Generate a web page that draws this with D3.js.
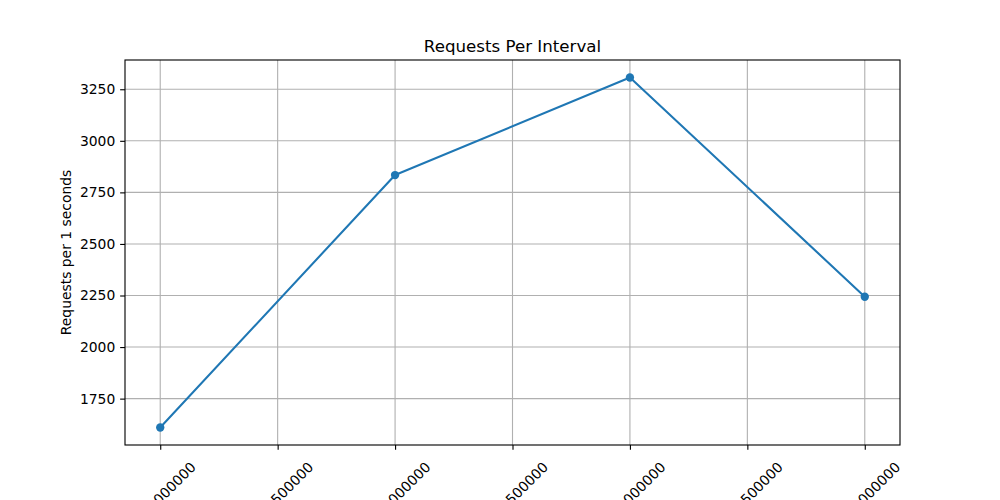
<!DOCTYPE html>
<html>
<head>
<meta charset="utf-8">
<script src="https://cdn.jsdelivr.net/npm/d3@7"></script>
<style>
  html, body { margin: 0; padding: 0; background: #fff; }
  svg { display: block; font-family: "DejaVu Sans", sans-serif; }
</style>
</head>
<body>
<svg id="chart" width="1000" height="500"></svg>
<script>
// ---- data ----
const intervals = [0, 1, 2, 3];
const requests = [1610, 2834, 3307, 2244];
const xTicks = [0, 0.5, 1, 1.5, 2, 2.5, 3];
const xTickLabels = ["0.000000", "0.500000", "1.000000", "1.500000", "2.000000", "2.500000", "3.000000"];
const yTicks = [1750, 2000, 2250, 2500, 2750, 3000, 3250];
const titleText = "Requests Per Interval";
const yLabelText = "Requests per 1 seconds";

// ---- layout ----
const W = 1000, H = 500;
const m = { left: 125, right: 900, top: 60, bottom: 445 };
const blue = "#1f77b4";
const grid = "#b0b0b0";

const svg = d3.select("#chart");

const xMin = d3.min(intervals), xMax = d3.max(intervals);
const xPad = (xMax - xMin) * 0.05;
const yMin = d3.min(requests), yMax = d3.max(requests);
const yPad = (yMax - yMin) * 0.05;

const x = d3.scaleLinear().domain([xMin - xPad, xMax + xPad]).range([m.left, m.right]);
const y = d3.scaleLinear().domain([yMin - yPad, yMax + yPad]).range([m.bottom, m.top]);

// grid
const g = svg.append("g");
g.selectAll("line.vx").data(xTicks).join("line")
  .attr("x1", d => x(d)).attr("x2", d => x(d))
  .attr("y1", m.top).attr("y2", m.bottom)
  .attr("stroke", grid).attr("stroke-width", 1.11);
g.selectAll("line.hy").data(yTicks).join("line")
  .attr("x1", m.left).attr("x2", m.right)
  .attr("y1", d => y(d)).attr("y2", d => y(d))
  .attr("stroke", grid).attr("stroke-width", 1.11);

// line and markers
const line = d3.line().x((d, i) => x(intervals[i])).y(d => y(d));
svg.append("path").datum(requests)
  .attr("d", line).attr("fill", "none")
  .attr("stroke", blue).attr("stroke-width", 2.08)
  .attr("stroke-linejoin", "round").attr("stroke-linecap", "square");
svg.selectAll("circle.pt").data(requests).join("circle")
  .attr("cx", (d, i) => x(intervals[i])).attr("cy", d => y(d))
  .attr("r", 4.17).attr("fill", blue);

// spines
svg.append("rect")
  .attr("x", m.left).attr("y", m.top)
  .attr("width", m.right - m.left).attr("height", m.bottom - m.top)
  .attr("fill", "none").attr("stroke", "#000").attr("stroke-width", 1.11);

// x axis ticks
const xAxis = d3.axisBottom(x).tickValues(xTicks).tickFormat((d, i) => xTickLabels[i])
  .tickSize(4.86).tickPadding(0);
const xg = svg.append("g").attr("transform", `translate(0,${m.bottom})`).call(xAxis);
xg.select(".domain").remove();
xg.selectAll(".tick line").attr("stroke", "#000").attr("stroke-width", 1.11);
xg.selectAll(".tick text")
  .attr("font-family", "DejaVu Sans").attr("font-size", 13.89).attr("fill", "#000")
  .attr("text-anchor", "end").attr("dy", null).attr("y", null)
  .attr("transform", "translate(36,23) rotate(-45)");

// y axis ticks
const yAxis = d3.axisLeft(y).tickValues(yTicks).tickFormat(d3.format("d"))
  .tickSize(4.86).tickPadding(4.86);
const yg = svg.append("g").attr("transform", `translate(${m.left},0)`).call(yAxis);
yg.select(".domain").remove();
yg.selectAll(".tick line").attr("stroke", "#000").attr("stroke-width", 1.11);
yg.selectAll(".tick text")
  .attr("font-family", "DejaVu Sans").attr("font-size", 13.89).attr("fill", "#000");

// title
svg.append("text")
  .attr("x", (m.left + m.right) / 2).attr("y", 51.7)
  .attr("text-anchor", "middle")
  .attr("font-size", 16.67).attr("fill", "#000")
  .text(titleText);

// y label
svg.append("text")
  .attr("transform", `translate(71,${(m.top + m.bottom) / 2}) rotate(-90)`)
  .attr("text-anchor", "middle")
  .attr("font-size", 13.89).attr("fill", "#000")
  .text(yLabelText);
</script>
</body>
</html>
